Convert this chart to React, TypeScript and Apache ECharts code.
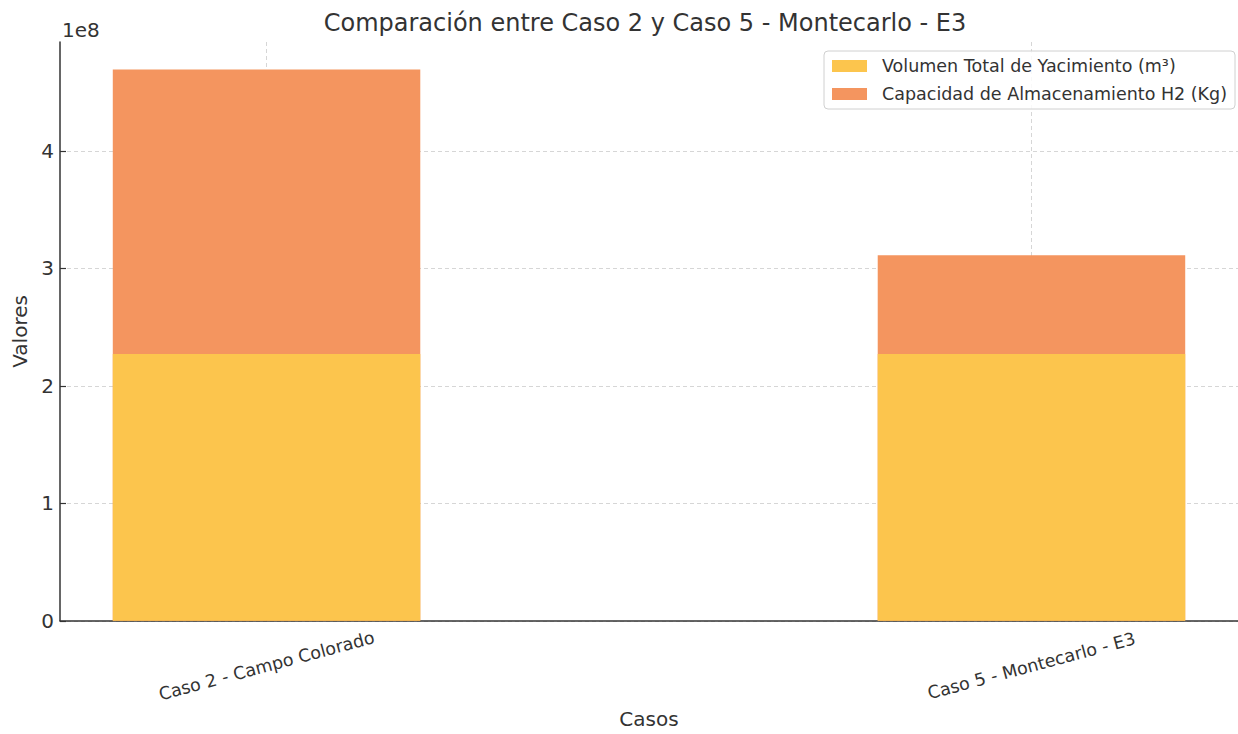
import React, { useEffect, useRef } from "react";
import * as echarts from "echarts";

const categories = ["Caso 2 - Campo Colorado", "Caso 5 - Montecarlo - E3"];
const categoryPositions = [0, 1];
const volumenTotal = [2.271e8, 2.271e8];
const capacidadH2 = [2.42e8, 0.839e8];
const yTicks = [0, 1e8, 2e8, 3e8, 4e8];
const seriesNames = [
  "Volumen Total de Yacimiento (m³)",
  "Capacidad de Almacenamiento H2 (Kg)",
];
const titleText = "Comparación entre Caso 2 y Caso 5 - Montecarlo - E3";

const FONT = "DejaVu Sans";
const TEXT = "#333333";

export default function App() {
  const ref = useRef<HTMLDivElement>(null);
  useEffect(() => {
    if (!ref.current) return;
    const chart = echarts.init(ref.current, undefined, { renderer: "svg" });
    // stacked top of each bar (volume + capacity)
    const totals = volumenTotal.map((v, i) => v + capacidadH2[i]);
    const yMax = Math.max(...totals) * 1.05;
    const grid = { type: [4, 3] as any, color: "#d6d6d6", width: 1 };
    chart.setOption({
      animation: false,
      backgroundColor: "#ffffff",
      textStyle: { fontFamily: FONT, color: TEXT },
      graphic: [
        {
          type: "text",
          x: 645,
          y: 23,
          style: {
            text: titleText,
            fontFamily: FONT,
            fontSize: 24,
            fill: TEXT,
            align: "center",
            verticalAlign: "middle",
          },
        },
        {
          type: "text",
          x: 62,
          y: 30,
          style: {
            text: "1e8",
            fontFamily: FONT,
            fontSize: 20,
            fill: TEXT,
            align: "left",
            verticalAlign: "middle",
          },
        },
      ],
      grid: { left: 60, right: -6, top: 42, bottom: 107, containLabel: false },
      legend: {
        data: seriesNames,
        orient: "vertical",
        left: 824,
        top: 51,
        itemWidth: 35,
        itemHeight: 12,
        itemGap: 8,
        padding: [5, 8, 5, 8],
        icon: "rect",
        backgroundColor: "rgba(255,255,255,0.85)",
        borderColor: "#d0d0d0",
        borderWidth: 1,
        borderRadius: 4,
        textStyle: {
          fontFamily: FONT,
          fontSize: 17.5,
          color: TEXT,
          lineHeight: 20,
          padding: [0, 0, 0, 10],
        },
      },
      xAxis: {
        type: "value",
        min: -0.27,
        max: 1.27,
        name: "Casos",
        nameLocation: "middle",
        nameGap: 98,
        nameTextStyle: { fontFamily: FONT, fontSize: 20, color: TEXT, verticalAlign: "middle" },
        axisLine: { show: true, onZero: false, lineStyle: { color: "#333", width: 1.5 } },
        axisTick: {
          show: true,
          inside: true,
          length: 6,
          customValues: categoryPositions,
          lineStyle: { color: "#333", width: 1.2 },
        },
        axisLabel: {
          customValues: categoryPositions,
          formatter: (v: number) => categories[Math.round(v)] ?? "",
          rotate: 15,
          fontFamily: FONT,
          fontSize: 17.5,
          color: TEXT,
          margin: 45,
          align: "center",
          verticalAlign: "middle",
        },
        splitLine: { show: true, lineStyle: grid },
      },
      yAxis: {
        type: "value",
        min: 0,
        max: yMax,
        name: "Valores",
        nameLocation: "middle",
        nameGap: 40,
        nameTextStyle: { fontFamily: FONT, fontSize: 20, color: TEXT, verticalAlign: "middle" },
        axisLine: { show: true, onZero: false, lineStyle: { color: "#333", width: 1.5 } },
        axisTick: {
          show: true,
          inside: true,
          length: 6,
          customValues: yTicks,
          lineStyle: { color: "#333", width: 1.2 },
        },
        axisLabel: {
          customValues: yTicks,
          formatter: (v: number) => String(Math.round(v / 1e8)),
          fontFamily: FONT,
          fontSize: 20,
          color: TEXT,
          margin: 6,
        },
        splitLine: { show: true, lineStyle: grid },
      },
      series: [
        {
          // upper segment: drawn from 0 up to the stacked total, then covered by the lower segment
          name: seriesNames[1],
          type: "bar",
          barWidth: 307.5,
          barGap: "-100%",
          itemStyle: { color: "#F4955F" },
          data: categoryPositions.map((x, i) => [x, totals[i]]),
          z: 2,
        },
        {
          name: seriesNames[0],
          type: "bar",
          barWidth: 307.5,
          barGap: "-100%",
          itemStyle: { color: "#FCC54D" },
          data: categoryPositions.map((x, i) => [x, volumenTotal[i]]),
          z: 3,
        },
      ],
    });
    return () => chart.dispose();
  }, []);
  return (
    <div
      ref={ref}
      style={{ position: "fixed", left: 0, top: 0, width: 1238, height: 734 }}
    />
  );
}
